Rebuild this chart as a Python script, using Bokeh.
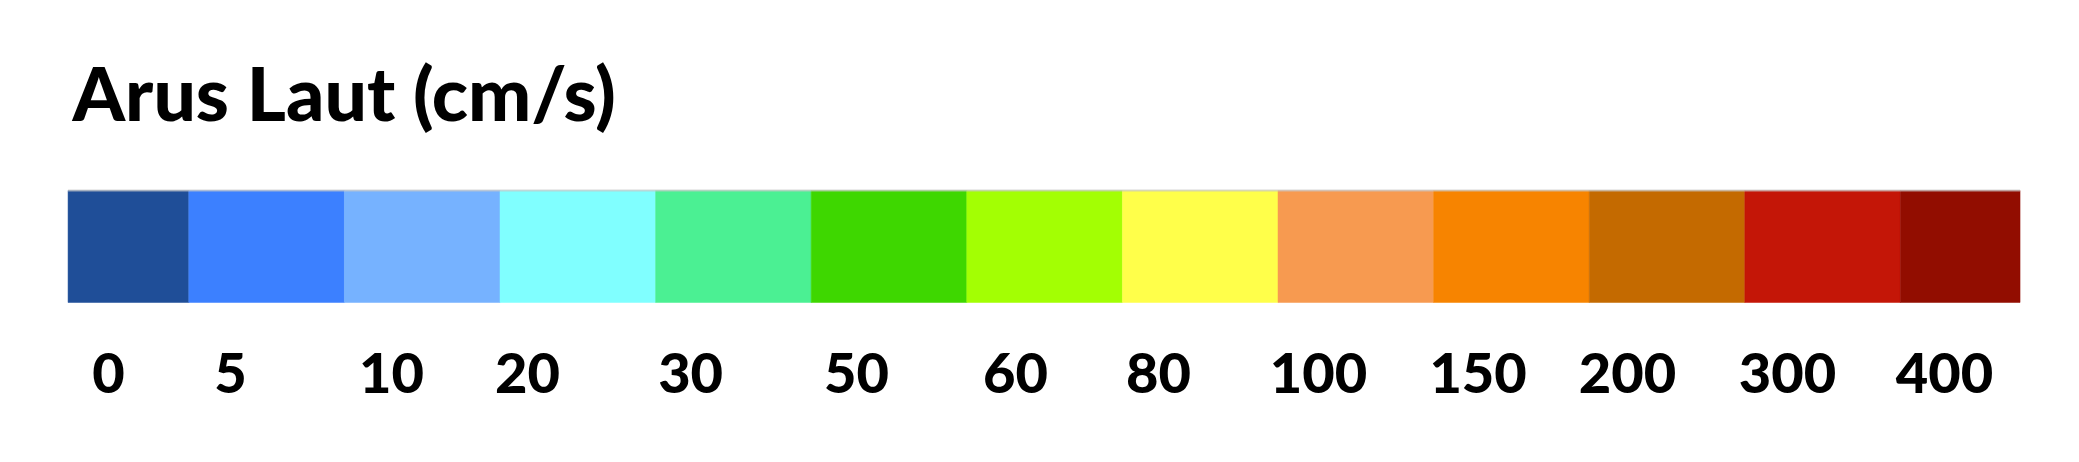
from bokeh.plotting import figure
from bokeh.models import Range1d, ColumnDataSource
from bokeh.core.properties import value
from bokeh.embed import file_html
from bokeh.resources import INLINE

# ---- data ----
title_text = "Arus Laut (cm/s)"
class_labels = ["0", "5", "10", "20", "30", "50", "60", "80", "100", "150", "200", "300", "400"]
class_colors = ["#1F4E98", "#3C80FF", "#76B2FF", "#80FFFF", "#4BF093", "#3ED700", "#A3FF03",
                "#FFFF4A", "#F79A50", "#F78400", "#C46A00", "#C41607", "#920D00"]

# ---- layout (pixels / bin units) ----
W, H = 2063, 446
PX_PER_BIN = 155.6
BIN1_LEFT = 188.3
FIRST_LEFT_TRIM = 0.224
LAST_RIGHT_TRIM = 0.231
BAR_TOP, BAR_BOTTOM = 190, 302
LABEL_Y = 372
LABEL_OFFSETS = [0.484, 0.268, 0.303, 0.177, 0.225, 0.291, 0.313, 0.232, 0.260, 0.286, 0.246, 0.274, 0.283]
TITLE_X_PX = 72
TITLE_Y = 91

x0 = 1 - BIN1_LEFT / PX_PER_BIN
x1 = x0 + W / PX_PER_BIN

p = figure(width=W, height=H, x_range=Range1d(x0, x1), y_range=Range1d(H, 0),
           output_backend="svg", toolbar_location=None,
           x_axis_location=None, y_axis_location=None, min_border=0)
p.min_border_left = p.min_border_right = p.min_border_top = p.min_border_bottom = 0
p.grid.visible = False
p.outline_line_color = None
p.background_fill_color = "white"
p.border_fill_color = "white"

n = len(class_labels)
lefts = [float(i) for i in range(n)]
rights = [float(i + 1) for i in range(n)]
lefts[0] += FIRST_LEFT_TRIM
rights[-1] -= LAST_RIGHT_TRIM

src = ColumnDataSource(dict(left=lefts, right=rights,
                            top=[BAR_TOP] * n, bottom=[BAR_BOTTOM] * n,
                            color=class_colors))
p.quad(left="left", right="right", top="top", bottom="bottom",
       fill_color="color", line_color="color", line_width=0.5, source=src)
# faint grey rim along the top edge of the bar
p.segment(x0=[lefts[0]], x1=[rights[-1]], y0=[BAR_TOP], y1=[BAR_TOP],
          line_color="#C8C8C8", line_width=2, line_alpha=0.7)

lab_src = ColumnDataSource(dict(x=[i + o for i, o in enumerate(LABEL_OFFSETS)],
                                y=[LABEL_Y] * n, text=class_labels))
p.text(x="x", y="y", text="text", source=lab_src,
       text_font=value("Lato Black"), text_font_style="normal", text_font_size="56px",
       text_color="black", text_align="center", text_baseline="alphabetic")

p.text(x=[x0 + TITLE_X_PX / PX_PER_BIN], y=[TITLE_Y], text=[title_text],
       text_font=value("Lato Black"), text_font_style="normal", text_font_size="75px",
       text_color="black", text_align="left", text_baseline="alphabetic")

open("out.html", "w").write(file_html(p, INLINE))
